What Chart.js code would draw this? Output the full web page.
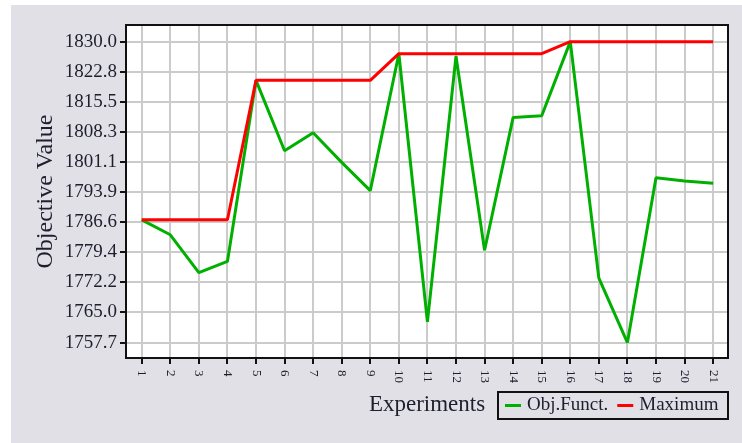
<!DOCTYPE html>
<html>
<head>
<meta charset="utf-8">
<script src="https://cdn.jsdelivr.net/npm/chart.js@4.4.1/dist/chart.umd.min.js"></script>
<style>
html,body{margin:0;padding:0;background:#fff;}
#wrap{width:742px;height:443px;position:relative;}
</style>
</head>
<body>
<div id="wrap"><canvas id="c" width="742" height="443"></canvas></div>
<script>
// ---- data ----
const categories = [1,2,3,4,5,6,7,8,9,10,11,12,13,14,15,16,17,18,19,20,21];
const xTickLabels = ['1','2','3','4','5','6','7','8','9','10','11','12','13','14','15','16','17','18','19','20','21'];
const objFunct = [1787.2, 1783.6, 1774.5, 1777.2, 1820.7, 1803.8, 1808.1, 1801.0, 1794.2, 1827.1, 1762.7,
                  1826.5, 1779.9, 1811.8, 1812.2, 1830.0, 1773.2, 1757.7, 1797.3, 1796.5, 1796.0];
const maximum  = [1787.2, 1787.2, 1787.2, 1787.2, 1820.7, 1820.7, 1820.7, 1820.7, 1820.7, 1827.1, 1827.1,
                  1827.1, 1827.1, 1827.1, 1827.1, 1830.0, 1830.0, 1830.0, 1830.0, 1830.0, 1830.0];
const yTickValues = [1757.7, 1765.0, 1772.2, 1779.4, 1786.6, 1793.9, 1801.1, 1808.3, 1815.5, 1822.8, 1830.0];
const seriesNames = ['Obj.Funct.', 'Maximum'];
const xTitle = 'Experiments';
const yTitle = 'Objective Value';

// ---- styling ----
const FONT = '"Liberation Serif", "Times New Roman", serif';
const TEXT = '#1e1e2e';
const GRID = '#cbcbcb';
const AXIS = '#111111';

const toPoints = vals => categories.map((c, i) => ({x: c, y: vals[i]}));

const deco = {
  id: 'deco',
  beforeDraw(chart) {
    const ctx = chart.ctx, a = chart.chartArea;
    ctx.save();
    ctx.fillStyle = '#ffffff';
    ctx.fillRect(0, 0, chart.width, chart.height);
    ctx.fillStyle = '#e0e0e6';
    ctx.fillRect(11, 5, chart.width - 11, chart.height - 5);
    ctx.fillStyle = '#ffffff';
    ctx.fillRect(a.left, a.top, a.right - a.left, a.bottom - a.top);
    ctx.restore();
  },
  afterDraw(chart) {
    const ctx = chart.ctx, a = chart.chartArea;
    ctx.save();
    // top & right frame
    ctx.strokeStyle = AXIS;
    ctx.lineWidth = 2;
    ctx.beginPath();
    ctx.moveTo(a.left, a.top);
    ctx.lineTo(a.right, a.top);
    ctx.lineTo(a.right, a.bottom);
    ctx.stroke();
    // x tick labels, rotated clockwise (read top to bottom)
    const xs = chart.scales.x;
    ctx.fillStyle = TEXT;
    ctx.font = '13px ' + FONT;
    ctx.textAlign = 'left';
    ctx.textBaseline = 'middle';
    xs.ticks.forEach((t, i) => {
      const px = xs.getPixelForValue(t.value);
      ctx.save();
      ctx.translate(px, a.bottom + 12);
      ctx.rotate(Math.PI / 2);
      ctx.fillText(xTickLabels[i], 0, 0);
      ctx.restore();
    });
    // legend
    ctx.strokeStyle = AXIS;
    ctx.lineWidth = 2;
    ctx.strokeRect(498, 392, 230, 27);
    ctx.font = '19px ' + FONT;
    ctx.textBaseline = 'middle';
    let x = 505;
    const cy = 405.5;
    chart.data.datasets.forEach(ds => {
      ctx.strokeStyle = ds.borderColor;
      ctx.lineWidth = 3;
      ctx.beginPath();
      ctx.moveTo(x, cy);
      ctx.lineTo(x + 16, cy);
      ctx.stroke();
      x += 22;
      ctx.fillStyle = TEXT;
      ctx.fillText(ds.label, x, cy);
      x += ctx.measureText(ds.label).width + 9;
    });
    ctx.restore();
  }
};

new Chart(document.getElementById('c'), {
  type: 'line',
  data: {
    datasets: [
      {label: seriesNames[0], data: toPoints(objFunct), borderColor: '#00b000', borderWidth: 3,
       pointRadius: 0, tension: 0, borderJoinStyle: 'bevel', order: 1},
      {label: seriesNames[1], data: toPoints(maximum), borderColor: '#ff0000', borderWidth: 3,
       pointRadius: 0, tension: 0, borderJoinStyle: 'bevel', order: 0}
    ]
  },
  options: {
    responsive: false,
    animation: false,
    devicePixelRatio: 1,
    layout: {padding: {top: 25, right: 14, bottom: 0, left: 0}},
    plugins: {legend: {display: false}, tooltip: {enabled: false}},
    scales: {
      x: {
        type: 'linear', min: 0.45, max: 21.52,
        afterBuildTicks: s => { s.ticks = categories.map(v => ({value: v})); },
        afterFit: s => { s.height = 85; },
        ticks: {display: false},
        grid: {color: GRID, lineWidth: 2, drawTicks: true, tickLength: 6, tickColor: AXIS, tickWidth: 2},
        border: {display: true, color: AXIS, width: 2},
        title: {display: true, text: xTitle, color: TEXT, font: {family: FONT, size: 23},
                padding: {top: 0, bottom: 24}}
      },
      y: {
        type: 'linear', min: 1754, max: 1834,
        afterBuildTicks: s => { s.ticks = yTickValues.map(v => ({value: v})); },
        afterFit: s => { s.width = 126; },
        ticks: {callback: v => Number(v).toFixed(1), color: TEXT, font: {family: FONT, size: 19}, padding: 3},
        grid: {color: GRID, lineWidth: 2, drawTicks: true, tickLength: 6, tickColor: AXIS, tickWidth: 2},
        border: {display: true, color: AXIS, width: 2},
        title: {display: true, text: yTitle, color: TEXT, font: {family: FONT, size: 24},
                padding: {top: 31, bottom: 0}}
      }
    }
  },
  plugins: [deco]
});
</script>
</body>
</html>
